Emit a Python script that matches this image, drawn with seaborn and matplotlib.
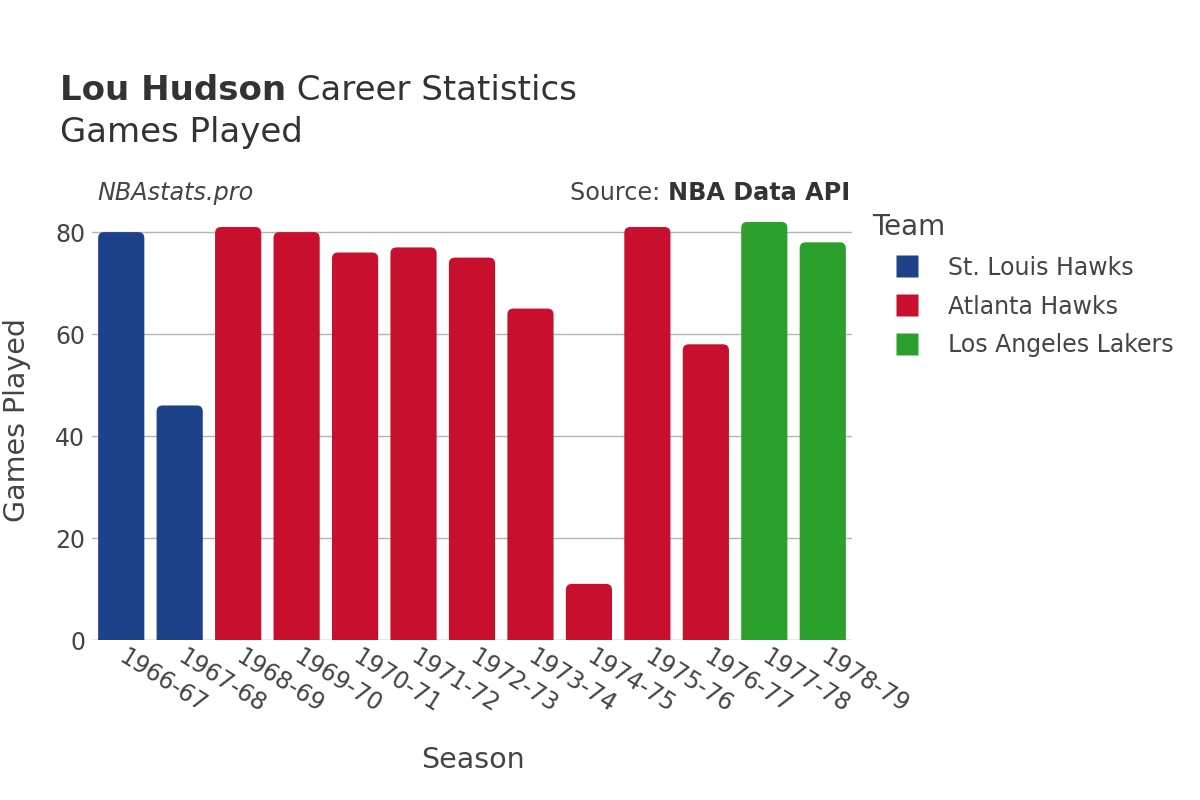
import matplotlib
matplotlib.use("Agg")
import matplotlib.pyplot as plt
import seaborn as sns
import pandas as pd
from matplotlib.patches import FancyBboxPatch
from matplotlib.lines import Line2D

seasons = ["1966-67", "1967-68", "1968-69", "1969-70", "1970-71", "1971-72", "1972-73",
           "1973-74", "1974-75", "1975-76", "1976-77", "1977-78", "1978-79"]
games = [80, 46, 81, 80, 76, 77, 75, 65, 11, 81, 58, 82, 78]
teams = ["St. Louis Hawks", "St. Louis Hawks", "Atlanta Hawks", "Atlanta Hawks", "Atlanta Hawks",
         "Atlanta Hawks", "Atlanta Hawks", "Atlanta Hawks", "Atlanta Hawks", "Atlanta Hawks",
         "Atlanta Hawks", "Los Angeles Lakers", "Los Angeles Lakers"]
team_order = ["St. Louis Hawks", "Atlanta Hawks", "Los Angeles Lakers"]
team_colors = ["#1D428A", "#C8102E", "#2CA02C"]

df = pd.DataFrame({"Season": seasons, "Games": games, "Team": teams})

sns.set_theme(style="white")
plt.rcParams["font.family"] = ["DejaVu Sans"]
TXT = "#444444"

fig = plt.figure(figsize=(12, 8), dpi=100)
ax = fig.add_axes([92 / 1200, 160 / 800, 760 / 1200, 440 / 800])

palette = dict(zip(team_order, team_colors))
sns.barplot(data=df, x="Season", y="Games", hue="Team", hue_order=team_order,
            palette=palette, dodge=False, width=0.79, saturation=1, ax=ax, legend=False)

ymax = 86.3
ax.set_ylim(0, ymax)
ax.set_xlim(-0.5, len(seasons) - 0.5)

# rounded top corners
px_per_x = 760 / len(seasons)
px_per_y = 440 / ymax
aspect = px_per_x / px_per_y
r_px = 6
rects = list(ax.patches)
for p in rects:
    h = p.get_height()
    if h <= 0:
        p.remove()
        continue
    x, w, c = p.get_x(), p.get_width(), p.get_facecolor()
    p.remove()
    fb = FancyBboxPatch((x, -5), w, h + 5,
                        boxstyle=f"round,pad=0,rounding_size={r_px / px_per_x}",
                        mutation_aspect=aspect, facecolor=c, edgecolor="none", zorder=2)
    ax.add_patch(fb)

ax.set_yticks([0, 20, 40, 60, 80])
ax.yaxis.grid(True, color="#b4b4b4", linewidth=1)
ax.set_axisbelow(True)
ax.axhline(0, color="#e6e6e6", linewidth=2, zorder=1)
for s in ax.spines.values():
    s.set_visible(False)

ax.tick_params(axis="both", length=0, labelsize=17, labelcolor=TXT)
ax.tick_params(axis="y", pad=5)
ax.tick_params(axis="x", pad=11)
plt.setp(ax.get_xticklabels(), rotation=-32, ha="left", va="center", rotation_mode="anchor")

ax.set_xlabel("Season", fontsize=20.5, color=TXT, labelpad=0)
ax.set_ylabel("Games Played", fontsize=20.5, color=TXT)
ax.xaxis.set_label_coords((473 - 92) / 760, -(746 - 640) / 440)
ax.yaxis.set_label_coords((31 - 92) / 760, 0.5)

# titles
t1 = fig.text(60 / 1200, 1 - 100 / 800, "Lou Hudson", fontsize=24.5, fontweight="bold",
              color="#333333", va="baseline", ha="left")
fig.canvas.draw()
bb = t1.get_window_extent()
fig.text(bb.x1 / 1200, 1 - 100 / 800, " Career Statistics", fontsize=24.5,
         color="#333333", va="baseline", ha="left")
fig.text(60 / 1200, 1 - 142 / 800, "Games Played", fontsize=24.5, color="#333333",
         va="baseline", ha="left")
fig.text(97 / 1200, 1 - 200 / 800, "NBAstats.pro", fontsize=17.2, style="italic",
         color=TXT, va="baseline", ha="left")
t2 = fig.text(850 / 1200, 1 - 200 / 800, "NBA Data API", fontsize=17.2, fontweight="bold",
              color="#333333", va="baseline", ha="right")
fig.canvas.draw()
bb2 = t2.get_window_extent()
fig.text(bb2.x0 / 1200, 1 - 200 / 800, "Source: ", fontsize=17.2, color=TXT,
         va="baseline", ha="right")

# legend
handles = [Line2D([0], [0], marker="s", linestyle="none", markersize=15.5,
                  markerfacecolor=c, markeredgecolor="none") for c in team_colors]
leg = fig.legend(handles, team_order, title="Team", loc="upper left",
                 bbox_to_anchor=(860 / 1200, 1 - 201 / 800), frameon=False,
                 fontsize=17, title_fontsize=20, labelspacing=0.63,
                 handletextpad=0.21, borderpad=0, handlelength=3.0)
leg._legend_box.align = "left"
for t in leg.get_texts():
    t.set_color(TXT)
leg.get_title().set_color(TXT)

fig.savefig("out.png", dpi=100, facecolor="white")
